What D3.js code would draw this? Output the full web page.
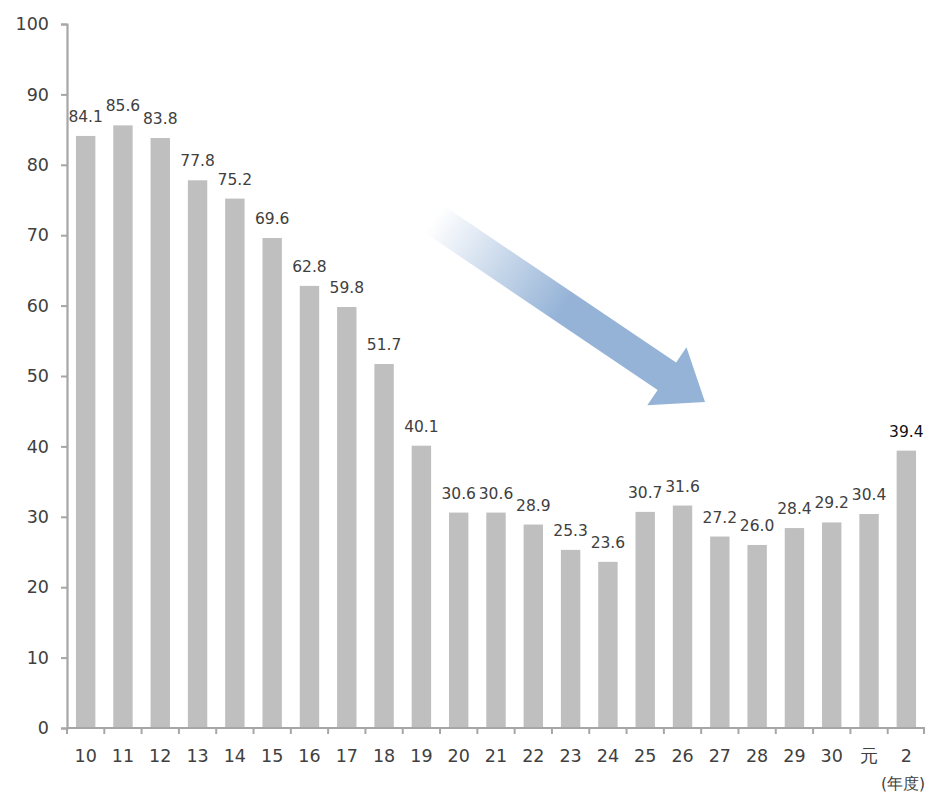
<!DOCTYPE html>
<html>
<head>
<meta charset="utf-8">
<script src="https://cdn.jsdelivr.net/npm/d3@7"></script>
<style>
  body { margin: 0; background: #fff; }
  text { font-family: "DejaVu Sans", Verdana, sans-serif; }
</style>
</head>
<body>
<div id="chart-area"></div>
<script>
// fiscal years (Heisei 10 .. Reiwa 2)
var years = ["10","11","12","13","14","15","16","17","18","19","20","21",
             "22","23","24","25","26","27","28","29","30","元","2"];
var values = [84.1, 85.6, 83.8, 77.8, 75.2, 69.6, 62.8, 59.8, 51.7, 40.1, 30.6, 30.6,
              28.9, 25.3, 23.6, 30.7, 31.6, 27.2, 26.0, 28.4, 29.2, 30.4, 39.4];
var yTicks = [0, 10, 20, 30, 40, 50, 60, 70, 80, 90, 100];
var unitLabel = "(年度)";

var data = years.map(function(y, i){ return { year: y, value: values[i] }; });

var margin = { left: 67, right: 1, top: 24, bottom: 66 };
var width = 926 - margin.left - margin.right,
    height = 794 - margin.top - margin.bottom;

var svg = d3.select("#chart-area")
    .append("svg")
    .attr("width", 926)
    .attr("height", 794);

var defs = svg.append("defs");
var grad = defs.append("linearGradient")
    .attr("id", "arrowGrad")
    .attr("x1", "0%").attr("y1", "0%")
    .attr("x2", "100%").attr("y2", "0%");
grad.append("stop").attr("offset", "0%").attr("stop-color", "#ffffff");
grad.append("stop").attr("offset", "48%").attr("stop-color", "#95b3d7");
grad.append("stop").attr("offset", "100%").attr("stop-color", "#95b3d7");

var g = svg.append("g")
    .attr("transform", "translate(" + margin.left + "," + margin.top + ")");

var x = d3.scaleBand()
    .domain(years)
    .range([0, width])
    .paddingInner(0.48)
    .paddingOuter(0.24);

var y = d3.scaleLinear()
    .domain([0, 100])
    .range([height, 0]);

// bars
g.selectAll("rect.bar")
    .data(data)
    .enter()
    .append("rect")
        .attr("class", "bar")
        .attr("x", function(d){ return x(d.year); })
        .attr("y", function(d){ return y(d.value); })
        .attr("width", x.bandwidth())
        .attr("height", function(d){ return height - y(d.value); })
        .attr("fill", "#bfbfbf");

// value labels
g.selectAll("text.val")
    .data(data)
    .enter()
    .append("text")
        .attr("class", "val")
        .attr("x", function(d){ return x(d.year) + x.bandwidth() / 2; })
        .attr("y", function(d){ return y(d.value) - 14; })
        .attr("text-anchor", "middle")
        .attr("font-size", "15.5px")
        .attr("fill", function(d, i){ return i === data.length - 1 ? "#111" : "#404040"; })
        .text(function(d){ return d.value.toFixed(1); });

// y axis
var yAxis = g.append("g")
    .attr("class", "y-axis")
    .call(d3.axisLeft(y).tickValues(yTicks).tickSize(6).tickPadding(12));
yAxis.select(".domain").attr("stroke", "#a6a6a6").attr("stroke-width", 2.2);
yAxis.selectAll(".tick line").attr("stroke", "#a6a6a6").attr("stroke-width", 2);
yAxis.selectAll(".tick text")
    .attr("font-size", "17.5px")
    .attr("fill", "#404040")
    .attr("font-family", "DejaVu Sans, Verdana, sans-serif");

// x axis (ticks at category boundaries)
var xAxis = g.append("g")
    .attr("class", "x-axis")
    .attr("transform", "translate(0," + height + ")");
xAxis.append("line")
    .attr("x1", 0).attr("x2", width)
    .attr("stroke", "#a6a6a6").attr("stroke-width", 2.2);
var step = x.step();
xAxis.selectAll("line.tk")
    .data(d3.range(years.length + 1))
    .enter()
    .append("line")
        .attr("class", "tk")
        .attr("x1", function(i){ return i === years.length ? width - 1 : x(years[0]) - x.paddingOuter() * step + i * step; })
        .attr("x2", function(i){ return i === years.length ? width - 1 : x(years[0]) - x.paddingOuter() * step + i * step; })
        .attr("y1", 0).attr("y2", 6)
        .attr("stroke", "#a6a6a6").attr("stroke-width", 2);
xAxis.selectAll("text.xl")
    .data(years)
    .enter()
    .append("text")
        .attr("class", "xl")
        .attr("x", function(d){ return x(d) + x.bandwidth() / 2; })
        .attr("y", 34)
        .attr("text-anchor", "middle")
        .attr("font-size", "17.5px")
        .attr("fill", "#404040")
        .text(function(d){ return d; });

svg.append("text")
    .attr("x", 925)
    .attr("y", 789)
    .attr("text-anchor", "end")
    .attr("font-size", "15.5px")
    .attr("fill", "#404040")
    .text(unitLabel);

// trend arrow annotation
var tail = [434, 219], tip = [705, 402];
var len = Math.hypot(tip[0] - tail[0], tip[1] - tail[1]);
var ang = Math.atan2(tip[1] - tail[1], tip[0] - tail[0]) * 180 / Math.PI;
var shaftW = 33, headW = 70, headL = 46;
var arrowPts = [
    [0, -shaftW / 2], [len - headL, -shaftW / 2], [len - headL, -headW / 2],
    [len, 0],
    [len - headL, headW / 2], [len - headL, shaftW / 2], [0, shaftW / 2]
];
svg.append("path")
    .attr("transform", "translate(" + tail[0] + "," + tail[1] + ") rotate(" + ang + ")")
    .attr("d", d3.line()(arrowPts) + "Z")
    .attr("fill", "url(#arrowGrad)");
</script>
</body>
</html>
